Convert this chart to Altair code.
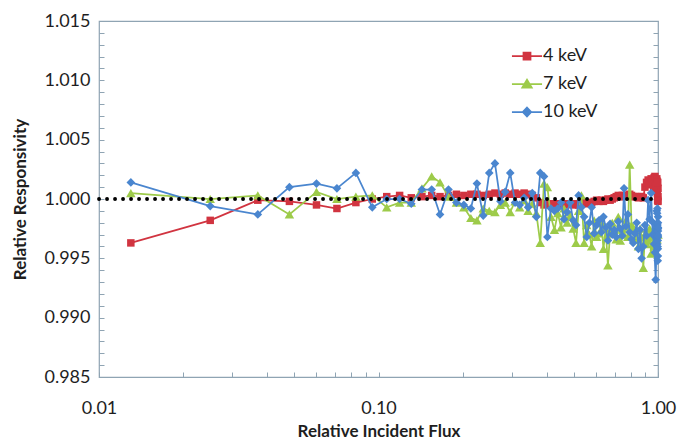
import altair as alt
import pandas as pd

# ---------------- data ----------------
series_names = ["4 keV", "7 keV", "10 keV"]
series_colors = ["#D13440", "#9DCB4A", "#4A86CF"]

flux = [0.013, 0.025, 0.037, 0.048, 0.060, 0.071, 0.083, 0.095, 0.107, 0.119,
        0.131, 0.143, 0.155, 0.166, 0.178, 0.190, 0.202, 0.214, 0.225, 0.237,
        0.249, 0.261, 0.273, 0.284, 0.296, 0.308, 0.320, 0.332, 0.343, 0.355,
        0.367, 0.379, 0.391, 0.402, 0.414, 0.426, 0.438, 0.450, 0.461, 0.473,
        0.485, 0.497, 0.509, 0.520, 0.532, 0.544, 0.556, 0.568, 0.579, 0.591,
        0.603, 0.615, 0.627, 0.638, 0.650, 0.662, 0.674, 0.686, 0.697, 0.709,
        0.721, 0.733, 0.745, 0.756, 0.768, 0.780, 0.792, 0.804, 0.815, 0.827,
        0.839, 0.851, 0.863, 0.874, 0.886, 0.898, 0.910, 0.922, 0.933, 0.945,
        0.957, 0.969, 0.981, 0.992, 1.000]

kev4 = [0.9963, 0.9982, 0.9999, 0.9998, 0.9995, 0.9992, 0.9997, 1.0000, 1.0002, 1.0003,
        1.0001, 1.0002, 1.0003, 1.0002, 1.0003, 1.0004, 1.0003, 1.0004, 1.0004, 1.0003,
        1.0004, 1.0005, 1.0004, 1.0005, 1.0004, 1.0005, 1.0004, 1.0005, 1.0004, 1.0003,
        1.0001, 0.9997, 0.9995, 0.9996, 0.9995, 0.9996, 0.9995, 0.9996, 0.9995, 0.9996,
        0.9996, 0.9995, 0.9996, 0.9995, 0.9996, 0.9997, 0.9996, 0.9997, 0.9997, 0.9998,
        0.9999, 0.9998, 0.9999, 0.9998, 0.9999, 1.0000, 0.9999, 1.0000, 1.0001, 1.0002,
        1.0003, 1.0002, 1.0003, 1.0002, 1.0003, 1.0003, 1.0004, 1.0003, 1.0002, 1.0002,
        1.0002, 1.0001, 1.0002, 1.0002, 1.0001, 1.0010, 1.0014, 1.0016, 1.0012, 1.0017,
        1.0013, 1.0018, 1.0011, 1.0015, 1.0009]
kev4_extra_flux = [0.955, 0.965, 0.975, 0.985, 0.990, 0.995, 0.998, 1.000, 0.997, 1.000]
kev4_extra = [1.0016, 1.0008, 1.0019, 1.0012, 1.0017, 1.0005, 1.0014, 1.0002, 0.9999, 0.9998]

kev7 = [1.0005, 1.0000, 1.0003, 0.9987, 1.0006, 1.0000, 1.0002, 1.0003, 0.9993, 0.9997,
        0.9997, 1.0009, 1.0019, 1.0014, 1.0002, 0.9997, 0.9993, 0.9984, 0.9982, 0.9992,
        0.9990, 0.9989, 0.9995, 0.9997, 0.9989, 0.9998, 0.9993, 0.9999, 0.9990, 0.9996,
        0.9988, 0.9963, 1.0013, 1.0010, 0.9985, 0.9974, 0.9988, 0.9976, 0.9992, 0.9980,
        0.9986, 0.9975, 0.9963, 0.9990, 1.0003, 0.9963, 0.9978, 0.9970, 0.9960, 0.9982,
        0.9968, 0.9971, 0.9980, 0.9958, 0.9975, 0.9944, 0.9972, 0.9980, 0.9974, 0.9966,
        0.9985, 0.9965, 0.9975, 0.9970, 0.9982, 0.9968, 1.0029, 0.9978, 0.9976, 0.9966,
        0.9972, 0.9960, 0.9975, 0.9968, 0.9942, 0.9970, 0.9962, 0.9965, 0.9975, 0.9954,
        0.9968, 0.9960, 0.9972, 0.9966, 0.9970]

kev10 = [1.0014, 0.9994, 0.9987, 1.0010, 1.0013, 1.0009, 1.0022, 0.9993, 1.0000, 1.0000,
         0.9996, 1.0008, 1.0008, 0.9987, 1.0008, 0.9997, 0.9995, 0.9992, 1.0013, 0.9986,
         1.0022, 1.0030, 0.9998, 1.0006, 1.0022, 0.9997, 0.9995, 1.0001, 0.9993, 1.0005,
         0.9985, 1.0022, 1.0019, 0.9968, 0.9992, 0.9990, 0.9992, 0.9997, 0.9983, 0.9989,
         0.9997, 0.9982, 0.9978, 1.0003, 0.9993, 0.9985, 0.9968, 0.9980, 0.9993, 0.9971,
         0.9978, 0.9982, 0.9972, 0.9985, 0.9976, 0.9965, 0.9979, 0.9970, 0.9974, 0.9968,
         0.9981, 0.9975, 0.9969, 1.0009, 0.9977, 0.9987, 0.9972, 0.9966, 0.9963, 0.9971,
         0.9980, 0.9958, 0.9974, 0.9950, 0.9960, 0.9978, 0.9969, 0.9999, 0.9983, 1.0005,
         0.9970, 0.9962, 0.9932, 0.9975, 0.9968]
kev10_extra_flux = [0.962, 0.975, 0.985, 0.990, 0.994, 0.996, 0.998, 1.000, 0.997, 0.999,
                    1.000, 0.995, 0.998, 1.000, 0.999, 1.000, 0.993, 0.997, 1.000, 0.999]
kev10_extra = [0.9980, 0.9955, 0.9972, 0.9990, 0.9962, 0.9978, 0.9948, 0.9985, 0.9970, 0.9958,
               0.9975, 0.9992, 0.9965, 0.9980, 0.9952, 0.9973, 0.9988, 0.9960, 0.9976, 0.9969]

x_label_values = [0.01, 0.1, 1.0]
x_minor_ticks = [0.01, 0.02, 0.03, 0.04, 0.05, 0.06, 0.07, 0.08, 0.09,
                 0.1, 0.2, 0.3, 0.4, 0.5, 0.6, 0.7, 0.8, 0.9, 1.0]
y_label_values = [0.985, 0.990, 0.995, 1.000, 1.005, 1.010, 1.015]
y_minor_ticks = [round(0.985 + 0.001 * i, 3) for i in range(31)]

# ---------------- tables ----------------
rows = []
for name, fx, vals in [("4 keV", flux + kev4_extra_flux, kev4 + kev4_extra),
                       ("7 keV", flux, kev7),
                       ("10 keV", flux + kev10_extra_flux, kev10 + kev10_extra)]:
    for i, (f, v) in enumerate(zip(fx, vals)):
        rows.append({"series": name, "flux": f, "resp": v, "i": i})
df = pd.DataFrame(rows)

ref_df = pd.DataFrame({"flux": [0.01, 1.0], "resp": [1.0, 1.0]})
leg_df = pd.DataFrame({"series": series_names, "flux": [0.5] * 3, "resp": [0.5] * 3})

# ---------------- styling ----------------
W, H = 559, 356
FRAME = "#8FA4B3"
FONT = "Lato"
TXT = "#1E1E1E"

xscale = alt.Scale(type="log", domain=[0.01, 1.0], nice=False)
yscale = alt.Scale(domain=[0.985, 1.015], nice=False, zero=False)

x_main_axis = alt.Axis(values=x_label_values, format=".2f", ticks=False, domain=False,
                       grid=False, labelFontSize=18, labelFont=FONT, labelColor=TXT,
                       labelPadding=22, title="Relative Incident Flux", titleFont=FONT,
                       titleFontSize=17, titleFontWeight="bold", titleColor=TXT,
                       titlePadding=6, labelFlush=False)
y_main_axis = alt.Axis(values=y_label_values, format=".3f", ticks=False, domain=False,
                       grid=False, labelFontSize=18, labelFont=FONT, labelColor=TXT,
                       labelPadding=9, title="Relative Responsivity", titleFont=FONT,
                       titleFontSize=17, titleFontWeight="bold", titleColor=TXT,
                       titlePadding=14)

shapes = {"4 keV": ("square", 56), "7 keV": ("triangle-up", 90), "10 keV": ("diamond", 75)}

main_layers = []
for name, col in zip(series_names, series_colors):
    shp, sz = shapes[name]
    base = alt.Chart(df).transform_filter(alt.datum.series == name)
    line = base.mark_line(color=col, strokeWidth=1.75).encode(
        x=alt.X("flux:Q", scale=xscale, axis=x_main_axis),
        y=alt.Y("resp:Q", scale=yscale, axis=y_main_axis),
        order="i:Q",
    )
    pts = base.mark_point(filled=True, shape=shp, size=sz, color=col, opacity=1).encode(
        x=alt.X("flux:Q", scale=xscale, axis=x_main_axis),
        y=alt.Y("resp:Q", scale=yscale, axis=y_main_axis),
    )
    main_layers += [line, pts]
main = alt.layer(*main_layers)

# dotted reference line at 1.000, carrying inward ticks (bottom + left edge)
ref = alt.Chart(ref_df).mark_line(color="black", strokeWidth=3.8, strokeDash=[0.1, 7.9],
                                  strokeCap="round").encode(
    x=alt.X("flux:Q", scale=xscale,
            axis=alt.Axis(orient="top", offset=-H, labels=False, domain=False, grid=False,
                          ticks=True, tickSize=5, tickColor=FRAME, values=x_minor_ticks,
                          title=None)),
    y=alt.Y("resp:Q", scale=yscale,
            axis=alt.Axis(orient="right", offset=-W, labels=False, domain=False, grid=False,
                          ticks=True, tickSize=5, tickColor=FRAME, values=y_minor_ticks,
                          title=None)),
)

# legend layer (marks clipped away), carrying inward ticks at the right edge
paths = [
    "M-4.3,0H4.3M-1,-1H1V1H-1Z",
    "M-4.3,0H4.3M0,-1.2L1.35,1.05L-1.35,1.05Z",
    "M-4.3,0H4.3M0,-1.25L1.2,0L0,1.25L-1.2,0Z",
]
legend = alt.Legend(orient="none", legendX=419, legendY=26, title=None, padding=0,
                    labelFont=FONT, labelFontSize=18, labelColor=TXT, labelOffset=7,
                    symbolSize=49, symbolStrokeWidth=1.75, rowPadding=10)
leg = alt.Chart(leg_df).mark_point(filled=True, clip=True, strokeWidth=1.75, opacity=1).encode(
    x=alt.X("flux:Q", scale=xscale, axis=None),
    y=alt.Y("resp:Q", scale=yscale,
            axis=alt.Axis(orient="left", offset=-W, labels=False, domain=False, grid=False,
                          ticks=True, tickSize=5, tickColor=FRAME, values=y_minor_ticks,
                          title=None)),
    fill=alt.Fill("series:N", scale=alt.Scale(domain=series_names, range=series_colors),
                  legend=legend, sort=series_names),
    stroke=alt.Stroke("series:N", scale=alt.Scale(domain=series_names, range=series_colors),
                      legend=legend, sort=series_names),
    shape=alt.Shape("series:N", scale=alt.Scale(domain=series_names, range=paths),
                    legend=legend, sort=series_names),
)

chart = alt.layer(main, ref, leg).resolve_scale(
    x="independent", y="independent"
).properties(
    width=W, height=H,
    autosize=alt.AutoSizeParams(type="none"),
    padding={"left": 99, "top": 21, "right": 22, "bottom": 64},
    background="white",
).configure_view(stroke=FRAME, strokeWidth=1.2)

chart.save("out.html", embed_options={"renderer": "svg", "actions": False})
